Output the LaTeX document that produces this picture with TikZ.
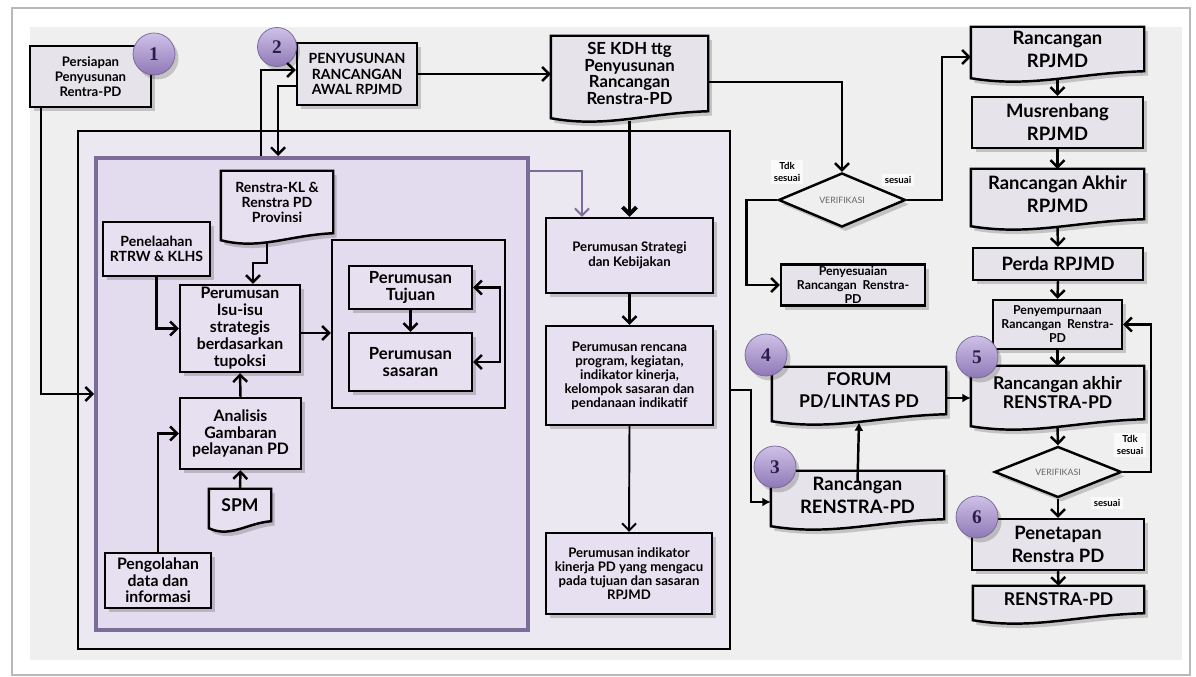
\documentclass[tikz,border=0pt]{standalone}
\usepackage{fontspec}
\setmainfont{Lato}
\newfontfamily\numfont{Liberation Serif}
\usetikzlibrary{%
  arrows.meta,%
  shapes.geometric,% wg. diamond
  shadows,%
  calc,%
  positioning%
}

\definecolor{bggray}{HTML}{EFEFEF}
\definecolor{outerfill}{HTML}{ECE8F2}
\definecolor{innerfill}{HTML}{E3DBEE}
\definecolor{innerline}{HTML}{7C6C9A}
\definecolor{boxgray}{HTML}{E6E4EA}
\definecolor{boxlav}{HTML}{E7E0F0}
\definecolor{circ}{HTML}{A88ED6}
\definecolor{numtext}{HTML}{2B1D47}

\pgfdeclarelayer{frames}
\pgfdeclarelayer{docs}
\pgfsetlayers{frames,docs,main}

\newcommand{\fsz}[2]{\bfseries\fontsize{#1}{#2}\selectfont}
% document shape round a named node
\newcommand{\docshape}[2]{%
  \path[docline,fill=#2] ($(#1.south west)+(0,7)$) -- (#1.north west) -- (#1.north east) -- (#1.south east)
    .. controls ($(#1.south east)!0.4!(#1.south west)+(0,2)$) and ($(#1.south west)!0.35!(#1.south east)+(0,17)$) .. ($(#1.south west)+(0,7)$) -- cycle;}

\begin{document}
\begin{tikzpicture}
[x=0.2mm, y=-0.2mm, every path/.style={line width=1.4pt},
>={Straight Barb[length=1.4mm,width=2.8mm]},
shadowed/.style={drop shadow={shadow xshift=2pt, shadow yshift=-2.5pt, opacity=0.18, fill=black}},
box/.style={rectangle, draw, fill=boxgray, inner sep=1pt, align=center, shadowed},
lbox/.style={box, fill=boxlav},
doc/.style={rectangle, inner sep=1pt, align=center},
docline/.style={draw, shadowed},
verif/.style={diamond, draw, fill=bggray, inner sep=0pt, aspect=2.4, shadowed,
  font=\fontsize{5}{6}\selectfont, text=black!60},
num/.style={circle, inner sep=0pt, minimum size=8.4mm, top color=circ!55!white, bottom color=circ!85!black,
  draw=circ!70!black, line width=0.4pt, text=numtext, font=\numfont\bfseries\fontsize{11}{11}\selectfont, shadowed},
lbl/.style={fill=gray!4, inner sep=1.5pt, align=center, font=\fsz{5.5}{6.5}},
frame/.style={rectangle, draw, inner sep=0pt},
fillarrow/.style={-{Latex[length=1.7mm,width=1.8mm]}},
purplearrow/.style={->, draw=innerline, line width=1.1pt}
]
\useasboundingbox (0,0) rectangle (1196,677);

\begin{pgfonlayer}{frames}
\fill[white] (0,0) rectangle (1196,677);
\draw[gray!55, line width=1pt] (12,8) rectangle (1190,675);
\fill[bggray] (30,27) rectangle (1182,660);
\node[frame, fill=outerfill, line width=0.9pt, minimum width=130.4mm, minimum height=103.6mm] (outerframe) at (404,390) {};
\node[frame, fill=innerfill, draw=innerline, line width=2.2pt, minimum width=86.4mm, minimum height=94.4mm] (innerframe) at (312,394) {};
\end{pgfonlayer}

% top row
\node[box, minimum width=24.2mm, minimum height=12.2mm, font=\fsz{7.5}{8.5}] (persiapan) at (90.5,76.5) {Persiapan\\Penyusunan\\Rentra-PD};
\node[box, minimum width=24mm, minimum height=12.4mm, font=\fsz{8}{8.6}] (penyusunan) at (357,74) {PENYUSUNAN\\RANCANGAN\\AWAL RPJMD};
\node[doc, minimum width=31mm, minimum height=14.6mm, font=\fsz{9.5}{9.6}] (sekdh) at (629.5,73.5) {SE KDH ttg\\Penyusunan\\Rancangan\\Renstra-PD};

% inner frame
\node[doc, minimum width=22mm, minimum height=12mm, font=\fsz{8}{8.5}] (renstrakl) at (277,202) {Renstra-KL \&\\Renstra PD\\Provinsi};
\node[lbox, minimum width=21.4mm, minimum height=10.8mm, font=\fsz{8}{8.5}] (penelaahan) at (156.5,249) {Penelaahan\\RTRW \& KLHS};
\node[lbox, minimum width=24mm, minimum height=17.4mm, font=\fsz{9}{9.7}] (isu) at (240,328.5) {Perumusan\\Isu-isu\\strategis\\berdasarkan\\tupoksi};
\node[frame, line width=1.2pt, minimum width=34.6mm, minimum height=33.6mm] (group) at (418.5,324) {};
\node[lbox, minimum width=24.6mm, minimum height=8.6mm, font=\fsz{9.5}{9.7}] (tujuan) at (410.5,287.5) {Perumusan\\Tujuan};
\node[lbox, minimum width=24.6mm, minimum height=11.6mm, font=\fsz{9.5}{9.7}] (sasaran) at (410.5,362) {Perumusan\\sasaran};
\node[lbox, minimum width=24.2mm, minimum height=14.2mm, font=\fsz{9}{9.6}] (analisis) at (240.5,433.5) {Analisis\\Gambaran\\pelayanan PD};
\node[doc, minimum width=12mm, minimum height=6mm, font=\fsz{10}{11}] (spm) at (240,505) {SPM};
\node[lbox, minimum width=21.2mm, minimum height=11mm, font=\fsz{9}{9.4}] (pengolahan) at (158,580.5) {Pengolahan\\data dan\\informasi};

% outer frame, right column
\node[lbox, minimum width=33.4mm, minimum height=15mm, font=\fsz{7.5}{8.5}] (strategi) at (629.5,255.5) {Perumusan Strategi\\dan Kebijakan};
\node[lbox, minimum width=33.4mm, minimum height=19.8mm, font=\fsz{7.5}{8}] (rencana) at (629.5,375.5) {Perumusan rencana\\program, kegiatan,\\indikator kinerja,\\kelompok sasaran dan\\pendanaan indikatif};
\node[lbox, minimum width=33.2mm, minimum height=16.2mm, font=\fsz{7.5}{8}] (indikator) at (629,573.5) {Perumusan indikator\\kinerja PD yang mengacu\\pada tujuan dan sasaran\\RPJMD};

% verification and forum
\node[verif, minimum width=25.4mm, minimum height=10.8mm] (verifa) at (842,200) {VERIFIKASI};
\node[box, minimum width=28.8mm, minimum height=8mm, font=\fsz{7}{8}] (penyes) at (853,285) {Penyesuaian\\Rancangan\ \ Renstra-\\PD};
\node[doc, minimum width=34.4mm, minimum height=9mm, font=\fsz{10}{12}] (forum) at (859,390.5) {FORUM\\PD/LINTAS PD};
\node[doc, minimum width=34.2mm, minimum height=9.2mm, font=\fsz{10.5}{13}] (rrenstra) at (857.5,495) {Rancangan\\RENSTRA-PD};
\node[lbl] (tdka) at (787,172) {Tdk\\sesuai};
\node[lbl] (sesa) at (898,180) {sesuai};

% right column
\node[doc, minimum width=34.2mm, minimum height=8.4mm, font=\fsz{10.5}{13}] (rrpjmd) at (1057.5,49) {Rancangan\\RPJMD};
\node[box, minimum width=34.2mm, minimum height=10.2mm, font=\fsz{10.5}{13}] (musren) at (1057.5,122.5) {Musrenbang\\RPJMD};
\node[doc, minimum width=34.2mm, minimum height=9.6mm, font=\fsz{10.5}{13}] (rakhir) at (1057.5,194) {Rancangan Akhir\\RPJMD};
\node[box, minimum width=34mm, minimum height=6.4mm, font=\fsz{10.5}{12}] (perda) at (1058,264) {Perda RPJMD};
\node[box, minimum width=25.8mm, minimum height=9.8mm, font=\fsz{7}{8}] (penyemp) at (1057.5,324.5) {Penyempurnaan\\Rancangan\ \ Renstra-\\PD};
\node[doc, minimum width=34.2mm, minimum height=10.2mm, font=\fsz{10}{11.3}] (rakhirr) at (1057.5,392.5) {Rancangan akhir\\RENSTRA-PD};
\node[verif, minimum width=25.4mm, minimum height=10.2mm] (verifb) at (1058,472) {VERIFIKASI};
\node[box, minimum width=34.4mm, minimum height=10.2mm, font=\fsz{10.5}{13}] (penetapan) at (1058,544.5) {Penetapan\\Renstra PD};
\node[doc, minimum width=33.8mm, minimum height=5mm, font=\fsz{10}{12}] (renstrapd) at (1058.5,599.5) {RENSTRA-PD};
\node[lbl] (tdkb) at (1130,445) {Tdk\\sesuai};
\node[lbl] (sesb) at (1107,503) {sesuai};

\begin{pgfonlayer}{docs}
\docshape{sekdh}{boxgray}
\docshape{renstrakl}{boxlav}
\docshape{spm}{boxlav}
\docshape{forum}{boxgray}
\docshape{rrenstra}{boxgray}
\docshape{rrpjmd}{boxgray}
\docshape{rakhir}{boxgray}
\docshape{rakhirr}{boxgray}
\docshape{renstrapd}{boxgray}
\end{pgfonlayer}

% step numbers
\node[num] (n1) at (154,54) {1};
\node[num, minimum size=7.8mm] (n2) at (277,47) {2};
\node[num] (n3) at (775,467) {3};
\node[num] (n4) at (766,355) {4};
\node[num] (n5) at (977,357) {5};
\node[num] (n6) at (977,517) {6};

% connectors
\draw[->] ([xshift=2.4mm]persiapan.south west) |- (innerframe.west);
\draw[->] ([xshift=33.4mm]innerframe.north west) |- ([yshift=0.8mm]penyusunan.west);
\draw[->] ([yshift=-2.4mm]penyusunan.west) -| ([xshift=36.8mm]innerframe.north west);
\draw[->] (penyusunan.east) -- (penyusunan.east -| sekdh.west);
\draw[->] ([yshift=-1.7mm]sekdh.east) -| (verifa.north);
\draw[->, line width=2.2pt] ([yshift=-2mm]sekdh.south) -- (strategi.north);
\draw[purplearrow] ([yshift=-3mm]innerframe.north east) -| ([xshift=-9.5mm]strategi.north);

\draw[->] ([xshift=-2mm,yshift=-1.6mm]renstrakl.south) -- ++(0,22) -| ([xshift=2.6mm]isu.north);
\draw[->] (penelaahan.south) |- (isu.west);
\draw[->] ([yshift=-0.9mm]isu.east) -- ([yshift=-0.9mm]isu.east -| group.west);
\draw[->] (tujuan.south) -- (sasaran.north);
\draw[<->] (sasaran.east) -- ++(27,0) |- (tujuan.east);
\draw[->] (analisis.north) -- (isu.south);
\draw[->] (spm.north) -- (analisis.south);
\draw[->] (pengolahan.north) |- (analisis.west);

\draw[->] (strategi.south) -- (rencana.north);
\draw[->, line width=1.1pt] (rencana.south) -- (indikator.north);

\draw[->] (verifa.east) -- ++(35,0) |- ([yshift=-1.6mm]rrpjmd.west);
\draw[->] (verifa.west) -- ++(-31,0) |- (penyes.west);
\draw[fillarrow] (outerframe.east) -- ++(20,0) |- ([yshift=-1.4mm]rrenstra.west);
\draw[fillarrow] ([yshift=-2.4mm]rrenstra.north) -- ([yshift=-1.6mm]forum.south);
\draw[fillarrow] ([yshift=-1.5mm]forum.east) -- ([yshift=-1.5mm]forum.east -| rakhirr.west);

\draw[->] ([yshift=-1.6mm]rrpjmd.south) -- (musren.north);
\draw[->] (musren.south) -- (rakhir.north);
\draw[->] ([yshift=-1.6mm]rakhir.south) -- (perda.north);
\draw[->] (perda.south) -- (penyemp.north);
\draw[->] (penyemp.south) -- (rakhirr.north);
\draw[->] ([yshift=-1.6mm]rakhirr.south) -- (verifb.north);
\draw[->] (verifb.east) -- ++(28,0) |- (penyemp.east);
\draw[->] (verifb.south) -- (penetapan.north);
\draw[->] (penetapan.south) -- (renstrapd.north);
\end{tikzpicture}
\end{document}
